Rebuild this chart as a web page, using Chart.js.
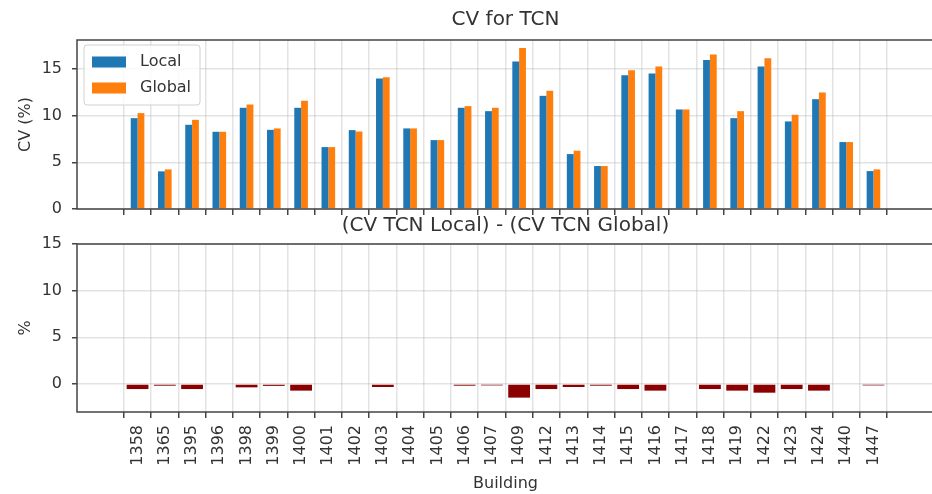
<!DOCTYPE html>
<html>
<head>
<meta charset="utf-8">
<script src="https://cdn.jsdelivr.net/npm/chart.js@4.4.1/dist/chart.umd.min.js"></script>
<style>
  html, body { margin: 0; padding: 0; background: #fff; overflow: hidden; width: 932px; height: 494px; }
  canvas { position: absolute; left: 0; }
  #topChart { top: 0; }
  #bottomChart { top: 212px; }
</style>
</head>
<body>
<canvas id="topChart" width="940" height="220"></canvas>
<canvas id="bottomChart" width="940" height="282"></canvas>
<script>
// Buildings on the x axis
const buildings = ["1358", "1365", "1395", "1396", "1398", "1399", "1400", "1401", "1402", "1403",
  "1404", "1405", "1406", "1407", "1409", "1412", "1413", "1414", "1415", "1416",
  "1417", "1418", "1419", "1422", "1423", "1424", "1440", "1447"];

// CV (%) per building
const cvLocal = [9.73, 4.03, 9.02, 8.27, 10.84, 8.48, 10.84, 6.63, 8.45, 13.98,
  8.63, 7.38, 10.84, 10.48, 15.79, 12.12, 5.88, 4.6, 14.33, 14.51,
  10.66, 15.97, 9.73, 15.26, 9.38, 11.76, 7.17, 4.06];
const cvGlobal = [10.27, 4.24, 9.55, 8.27, 11.19, 8.63, 11.59, 6.63, 8.3, 14.12,
  8.63, 7.38, 11.02, 10.84, 17.25, 12.66, 6.24, 4.6, 14.87, 15.26,
  10.66, 16.54, 10.48, 16.15, 10.09, 12.48, 7.17, 4.24];

// Local - Global difference (%)
const cvDiff = [-0.54, -0.18, -0.54, 0, -0.36, -0.2, -0.71, 0, 0, -0.32,
  0, 0, -0.18, -0.15, -1.46, -0.54, -0.32, -0.18, -0.54, -0.71,
  0, -0.54, -0.71, -0.93, -0.54, -0.71, 0, -0.15];

// Tick labels on the value axes
const cvTicks = [0, 5, 10, 15];
const diffTicks = [0, 5, 10, 15];

Chart.defaults.font.family = "'DejaVu Sans', sans-serif";
Chart.defaults.color = "#333";

const gridColor = "rgba(176, 176, 176, 0.35)";
const spineColor = "#444";

function toPoints(values) {
  return values.map((v, i) => ({ x: i, y: v }));
}

// Matplotlib style box around the plot area
const framePlugin = {
  id: "frame",
  afterDatasetsDraw(chart) {
    const { ctx, chartArea: a } = chart;
    ctx.save();
    ctx.strokeStyle = spineColor;
    ctx.lineWidth = 1.5;
    ctx.strokeRect(a.left, a.top, a.right - a.left, a.bottom - a.top);
    ctx.restore();
  }
};

// Legend in the upper-left corner of the plot
const cornerLegend = {
  id: "cornerLegend",
  afterDraw(chart) {
    const { ctx, chartArea: a } = chart;
    const x = a.left + 7, y = a.top + 5;
    ctx.save();
    ctx.fillStyle = "rgba(255,255,255,0.8)";
    ctx.strokeStyle = "#d0d0d0";
    ctx.lineWidth = 1;
    ctx.beginPath();
    ctx.roundRect(x, y, 116, 60, 3);
    ctx.fill();
    ctx.stroke();
    ctx.font = "16px 'DejaVu Sans'";
    ctx.textBaseline = "middle";
    chart.data.datasets.forEach((ds, i) => {
      const rowY = y + 17 + i * 26;
      ctx.fillStyle = ds.backgroundColor;
      ctx.fillRect(x + 8, rowY - 5.5, 34, 11);
      ctx.fillStyle = "#333";
      ctx.fillText(ds.label, x + 56, rowY);
    });
    ctx.restore();
  }
};

function xAxis(showLabels, height) {
  return {
    type: "linear",
    min: -1.66,
    max: buildings.length - 1 + 1.66,
    afterBuildTicks: scale => { scale.ticks = buildings.map((b, i) => ({ value: i })); },
    afterFit: scale => {
      scale.height = height;
      scale.paddingLeft = 0;
      scale.paddingRight = 0;
    },
    grid: { color: gridColor, lineWidth: 1.5, tickColor: spineColor, tickLength: 6 },
    border: { display: false },
    ticks: {
      display: showLabels,
      autoSkip: false,
      minRotation: 90,
      maxRotation: 90,
      padding: 7,
      font: { size: 16 },
      callback: value => buildings[value]
    },
    title: {
      display: showLabels,
      text: "Building",
      font: { size: 16 },
      padding: { top: 0, bottom: 1 }
    }
  };
}

function yAxis(min, max, ticks, label) {
  return {
    min, max,
    afterBuildTicks: scale => { scale.ticks = ticks.map(v => ({ value: v })); },
    afterFit: scale => {
      scale.width = 77;
      scale.paddingTop = 0;
      scale.paddingBottom = 0;
    },
    grid: { color: gridColor, lineWidth: 1.5, tickColor: spineColor, tickLength: 5 },
    border: { display: false },
    ticks: { padding: 10, font: { size: 16 } },
    title: { display: true, text: label, font: { size: 16 }, padding: { top: 16, bottom: 0 } }
  };
}

// Top: CV for TCN
new Chart(document.getElementById("topChart"), {
  type: "bar",
  data: {
    datasets: [
      { label: "Local", data: toPoints(cvLocal), backgroundColor: "#1f77b4" },
      { label: "Global", data: toPoints(cvGlobal), backgroundColor: "#ff7f0e" }
    ]
  },
  options: {
    responsive: false,
    animation: false,
    events: [],
    categoryPercentage: 0.5,
    barPercentage: 1.0,
    layout: { padding: { right: 6 } },
    plugins: {
      legend: { display: false },
      tooltip: { enabled: false },
      title: {
        display: true,
        text: "CV for TCN",
        font: { size: 20, weight: "normal" },
        padding: { top: 8, bottom: 8 },
        fullSize: false
      }
    },
    scales: {
      x: xAxis(false, 11),
      y: yAxis(0, 18.1, cvTicks, "CV (%)")
    }
  },
  plugins: [framePlugin, cornerLegend]
});

// Bottom: difference Local - Global
new Chart(document.getElementById("bottomChart"), {
  type: "bar",
  data: {
    datasets: [
      { label: "Local - Global", data: toPoints(cvDiff), backgroundColor: "#8b0000" }
    ]
  },
  options: {
    responsive: false,
    animation: false,
    events: [],
    categoryPercentage: 1.0,
    barPercentage: 0.8,
    layout: { padding: { right: 6 } },
    plugins: {
      legend: { display: false },
      tooltip: { enabled: false },
      title: {
        display: true,
        text: "(CV TCN Local) - (CV TCN Global)",
        font: { size: 20, weight: "normal" },
        padding: { top: 2, bottom: 6 },
        fullSize: false
      }
    },
    scales: {
      x: xAxis(true, 82),
      y: yAxis(-3, 15, diffTicks, "%")
    }
  },
  plugins: [framePlugin]
});
</script>
</body>
</html>
